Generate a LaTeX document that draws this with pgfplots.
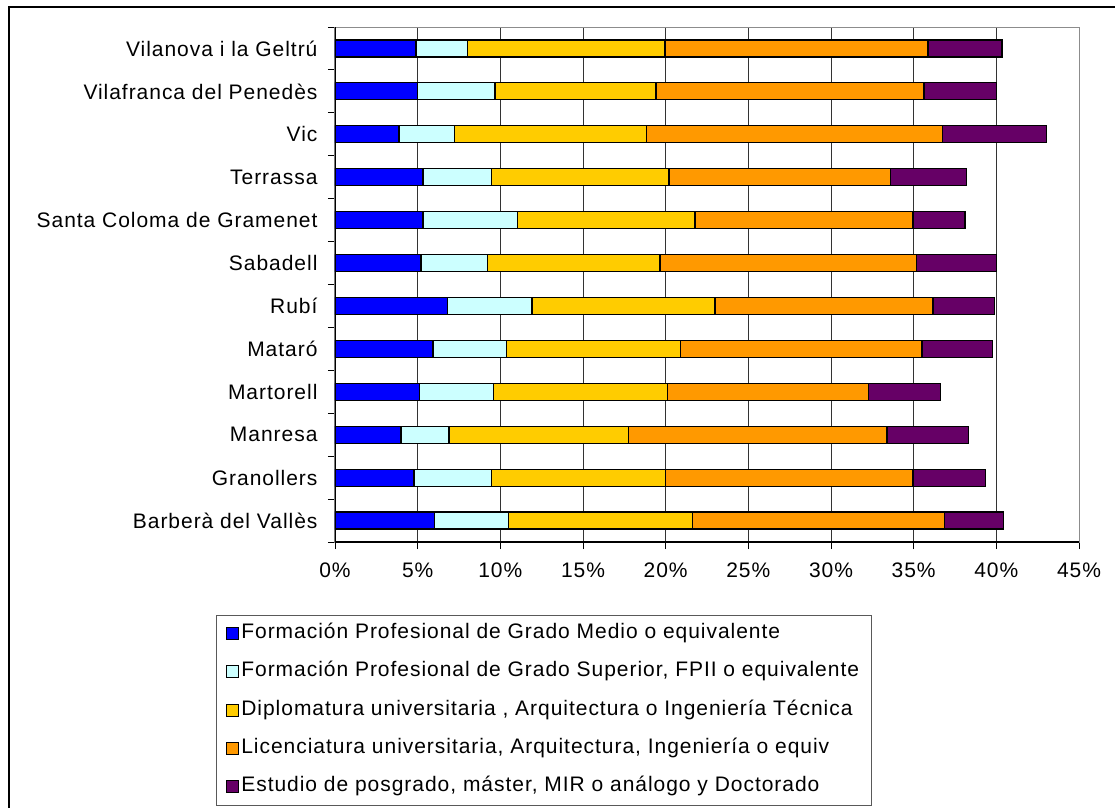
\documentclass[border=0pt]{standalone}
\usepackage{pgfplots}
\pgfplotsset{compat=1.18}
\usepackage{pgfplotstable}
\usepackage{fontspec}
\setmainfont{Liberation Sans}[LetterSpace=4.6]

\definecolor{fpmedio}{RGB}{0,0,255}
\definecolor{fpsup}{RGB}{204,255,255}
\definecolor{diplo}{RGB}{255,204,0}
\definecolor{licen}{RGB}{255,153,0}
\definecolor{posgr}{RGB}{102,0,102}

% shares per municipality (percent), bottom row first
\pgfplotstableread{
y  medio  sup   diplo  licen  posg
0  6.01   4.47  11.15  15.22  3.59
1  4.78   4.70  10.50  14.98  4.37
2  3.99   2.91  10.86  15.63  4.94
3  5.12   4.46  10.52  12.16  4.37
4  5.93   4.45  10.51  14.61  4.28
5  6.79   5.13  11.06  13.19  3.71
6  5.20   4.03  10.43  15.52  4.82
7  5.32   5.71  10.74  13.19  3.14
8  5.32   4.16  10.72  13.41  4.60
9  3.87   3.37  11.61  17.90  6.27
10 4.98   4.70   9.74  16.21  4.37
11 4.90   3.10  11.96  15.91  4.47
}\datatable

\begin{document}
\begin{tikzpicture}[x=1pt,y=1pt]
\useasboundingbox (-335,-265) rectangle (780,542);
\draw[line width=1.8pt] (-326,-400) -- (-326,535) -- (900,535);
\begin{axis}[
  at={(0,0)}, anchor=south west,
  scale only axis,
  width=744pt, height=515pt,
  xbar stacked,
  bar width=17pt,
  xmin=0, xmax=45,
  ymin=-0.5, ymax=11.5,
  xtick={0,5,...,45},
  xticklabel={\pgfmathprintnumber{\tick}\%},
  /pgf/number format/assume math mode=true,
  ytick={-0.5,0.5,...,11.5},
  y tick label as interval,
  yticklabels={Barberà del Vallès,Granollers,Manresa,Martorell,Mataró,Rubí,Sabadell,Santa Coloma de Gramenet,Terrassa,Vic,Vilafranca del Penedès,Vilanova i la Geltrú},
  xtick pos=bottom, ytick pos=left,
  tick align=outside,
  major tick length=7pt,
  tick style={black, line width=0.9pt},
  xmajorgrids,
  grid style={black!80, line width=0.9pt},
  axis line style={black!45, line width=1pt},
  ticklabel style={font=\fontsize{21}{25}\selectfont},
  yticklabel style={xshift=-7pt},
  xticklabel style={yshift=-10pt},
  every axis plot/.append style={draw=black, line width=1.2pt},
  legend style={at={(-0.160,-0.1417)}, anchor=north west,
    draw=black!65, line width=0.8pt,
    font=\fontsize{21}{25}\selectfont,
    row sep=16.4pt, inner xsep=10pt, inner ysep=7pt,
    nodes={inner sep=2pt, text height=14pt, text depth=4pt}},
  legend cell align=left,
  legend image code/.code={\draw[#1, line width=1pt] (0pt,-6pt) rectangle (12pt,6pt);},
]
\addplot[fill=fpmedio] table[x=medio, y=y] {\datatable};
\addplot[fill=fpsup] table[x=sup, y=y] {\datatable};
\addplot[fill=diplo] table[x=diplo, y=y] {\datatable};
\addplot[fill=licen] table[x=licen, y=y] {\datatable};
\addplot[fill=posgr] table[x=posg, y=y] {\datatable};
\legend{Formación Profesional de Grado Medio o equivalente,
  {Formación Profesional de Grado Superior, FPII o equivalente},
  {Diplomatura universitaria , Arquitectura o Ingeniería Técnica},
  {Licenciatura universitaria, Arquitectura, Ingeniería o equiv},
  {Estudio de posgrado, máster, MIR o análogo y Doctorado}}
\draw[black, line width=1.2pt] (rel axis cs:0,1) -- (rel axis cs:0,0) -- (rel axis cs:1,0);
\end{axis}
\end{tikzpicture}
\end{document}
